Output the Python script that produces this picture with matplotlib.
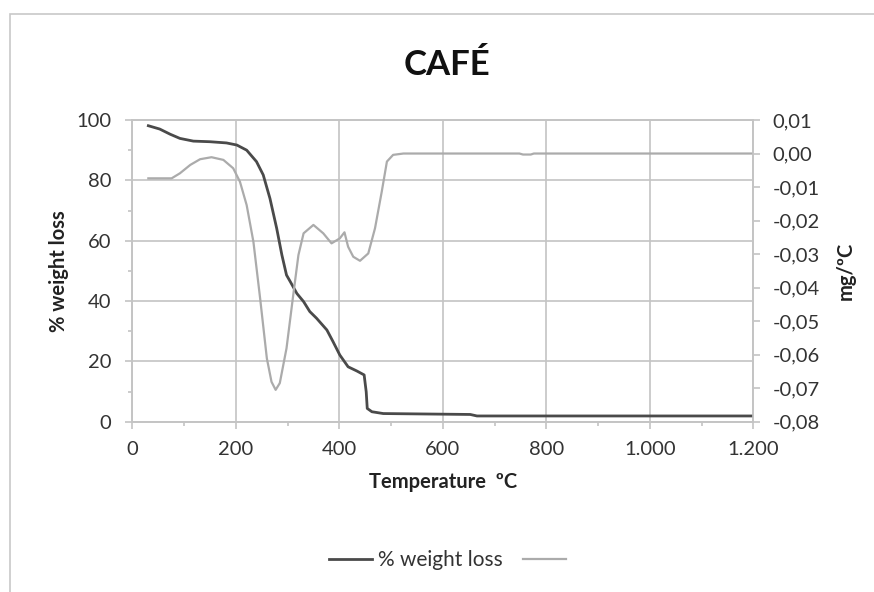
import numpy as np
import matplotlib.pyplot as plt
from matplotlib.patches import Rectangle

plt.rcParams['font.family'] = ['Lato', 'DejaVu Sans']

# % weight loss (left axis)
temp_w = [31, 53, 73, 92, 118, 150, 182, 202, 221, 240, 253, 266, 279, 289, 298, 305,
          318, 331, 343, 356, 376, 388, 401, 417, 434, 448, 452, 454, 463, 485, 653, 666, 1200]
weight = [98.1, 97.0, 95.3, 93.9, 93.0, 92.8, 92.4, 91.7, 90.0, 86.2, 81.8, 74.0, 64.1, 55.3, 48.6, 46.5,
          42.5, 39.8, 36.5, 34.3, 30.4, 26.5, 22.1, 18.2, 16.8, 15.5, 9.9, 4.4, 3.3, 2.7, 2.4, 1.9, 1.9]

# derivative mg/ºC (right axis)
temp_d = [31, 76, 92, 112, 131, 153, 176, 195, 208, 221, 234, 247, 260, 269, 277, 285, 298,
          311, 321, 331, 350, 369, 385, 401, 410, 417, 427, 440, 456, 469, 482, 492, 504, 524,
          748, 755, 770, 776, 1200]
deriv = [-0.0074, -0.0074, -0.0059, -0.0034, -0.0017, -0.0011, -0.0019, -0.0044, -0.0084, -0.0154,
         -0.0263, -0.0432, -0.0611, -0.0681, -0.0705, -0.0685, -0.0581, -0.0422, -0.0303, -0.0238,
         -0.0213, -0.0238, -0.0268, -0.0253, -0.0235, -0.0278, -0.0308, -0.0320, -0.0298, -0.0223,
         -0.0114, -0.0024, -0.0004, 0.0, 0.0, -0.0003, -0.0003, 0.0, 0.0]

x_ticks = [0, 200, 400, 600, 800, 1000, 1200]
x_labels = ['0', '200', '400', '600', '800', '1.000', '1.200']
yl_ticks = [0, 20, 40, 60, 80, 100]
yr_ticks = [0.01, 0.0, -0.01, -0.02, -0.03, -0.04, -0.05, -0.06, -0.07, -0.08]
yr_labels = ['0,01', '0,00', '-0,01', '-0,02', '-0,03', '-0,04', '-0,05', '-0,06', '-0,07', '-0,08']

fig = plt.figure(figsize=(8.74, 5.92), dpi=100)
fig.patches.append(Rectangle((10 / 874, -0.1), 1.2, 1 - 14 / 592 + 0.1, transform=fig.transFigure,
                             fill=False, edgecolor='#c8c8c8', linewidth=1.2))

ax = fig.add_axes([132.3 / 874, 1 - 421.7 / 592, 621 / 874, 301.7 / 592])
ax2 = ax.twinx()

grid_c = '#c4c4c4'
txt_c = '#333333'

ax.plot(temp_w, weight, color='#4a4a4a', linewidth=2.0, label='% weight loss', zorder=3)
ax2.plot(temp_d, deriv, color='#ababab', linewidth=1.6, label=' ', zorder=2)

ax.set_xlim(0, 1200)
ax.set_ylim(0, 100)
ax2.set_ylim(-0.08, 0.01)

ax.set_xticks(x_ticks)
ax.set_xticklabels(x_labels)
ax.set_xticks(np.arange(100, 1200, 200), minor=True)
ax.set_yticks(yl_ticks)
ax.set_yticks(np.arange(10, 100, 20), minor=True)
ax2.set_yticks(yr_ticks)
ax2.set_yticklabels(yr_labels)

ax.grid(True, which='major', color=grid_c, linewidth=1.2)
ax.set_axisbelow(True)

for a in (ax, ax2):
    for s in a.spines.values():
        s.set_color(grid_c)
        s.set_linewidth(1.2)
    a.tick_params(which='major', length=5, color=grid_c, width=1.2, labelsize=14.5, labelcolor=txt_c)
    a.tick_params(which='minor', length=3, color=grid_c, width=1.2)
ax.tick_params(axis='y', pad=10)
ax.tick_params(axis='x', pad=9)
ax2.tick_params(axis='y', pad=9)

ax.set_xlabel('Temperature  ºC', fontsize=14.5, fontweight='bold', color='#222222', labelpad=10)
ax.set_ylabel('% weight loss', fontsize=14.5, fontweight='bold', color='#222222', labelpad=5)
ax2.set_ylabel('mg/ºC', fontsize=14.5, fontweight='bold', color='#222222', labelpad=11)

fig.text(447 / 874, 1 - 65 / 592, 'CAFÉ', fontsize=25, fontweight='bold', ha='center', va='center', color='#111111')

h1, l1 = ax.get_legend_handles_labels()
h2, l2 = ax2.get_legend_handles_labels()
fig.legend(h1 + h2, l1 + l2, loc='center', bbox_to_anchor=(453 / 874, 1 - 560 / 592), ncol=2,
           frameon=False, fontsize=15, handlelength=2.07, handletextpad=0.25, columnspacing=1.0,
           labelcolor=txt_c)

fig.savefig('out.png', dpi=100)
